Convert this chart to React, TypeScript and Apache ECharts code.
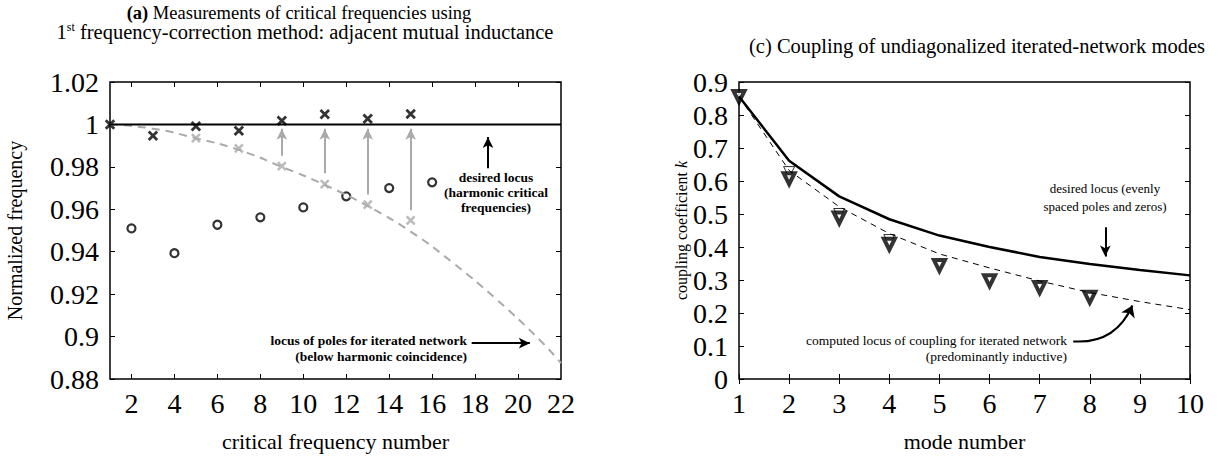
import React, { useEffect, useRef } from "react";
import * as echarts from "echarts";

// ---- Panel (a) data ----
const circleNum = [2, 4, 6, 8, 10, 12, 14, 16];
const circleFreq = [0.951, 0.9393, 0.9527, 0.9562, 0.9609, 0.9661, 0.97, 0.9727];
const crossNum = [1, 3, 5, 7, 9, 11, 13, 15];
const crossFreq = [1.0, 0.9947, 0.9991, 0.997, 1.0017, 1.0048, 1.0027, 1.0049];
const grayNum = [5, 7, 9, 11, 13, 15];
const grayFreq = [0.9935, 0.9887, 0.9803, 0.9719, 0.9622, 0.9548];
const locusNum = [1, 3, 5, 7, 9, 11, 13, 15, 17, 19, 21, 22];
const locusFreq = [1.0, 0.998, 0.9935, 0.988, 0.98, 0.9715, 0.9615, 0.9495, 0.9345, 0.9175, 0.8985, 0.8875];
const desiredNum = [1, 22];
const desiredFreq = [1.0, 1.0];
const arrowNum = [9, 11, 13, 15];
const arrowFrom = [0.9852, 0.977, 0.967, 0.9596];
const arrowTo = 0.998;
const xTicksA = [2, 4, 6, 8, 10, 12, 14, 16, 18, 20, 22];

// ---- Panel (c) data ----
const modes = [1, 2, 3, 4, 5, 6, 7, 8, 9, 10];
const desiredK = [0.856, 0.6614, 0.5534, 0.4841, 0.4346, 0.4, 0.37, 0.3485, 0.3306, 0.314];
const computedK = [0.856, 0.632, 0.522, 0.4406, 0.379, 0.3366, 0.297, 0.262, 0.2346, 0.21];
const measModes = [1, 2, 3, 4, 5, 6, 7, 8];
const measK = [0.856, 0.607, 0.488, 0.408, 0.3436, 0.298, 0.277, 0.2475];
const thinModes = [2, 3, 4];
const thinK = [0.627, 0.5, 0.421];

const FONT = "Liberation Serif";
const CROSS = "path://M0,0L10,10M10,0L0,10";

const zip = (xs: number[], ys: number[]) => xs.map((x, i) => [x, ys[i]]);

const txt = (text: string, x: number, y: number, size: number, extra: any = {}) => ({
  type: "text",
  style: {
    text, x, y, align: "center", verticalAlign: "middle",
    fontFamily: FONT, fontSize: size, fill: "#000", ...extra,
  },
});

export default function App() {
  const ref = useRef<HTMLDivElement>(null);
  useEffect(() => {
    if (!ref.current) return;
    const chart = echarts.init(ref.current, undefined, { renderer: "svg" });
    const gridA = { left: 110, top: 82, width: 451, height: 303 };
    const gridC = { left: 739, top: 82, width: 451, height: 303 };
    const tickStyle = { show: true, inside: true, length: 5, lineStyle: { color: "#000", width: 1 } };
    const labelFont = { fontFamily: FONT, fontSize: 28, color: "#000" };
    const noLine = { show: false };
    const arrowLine = (color: string, data: any[], xi: number, yi: number) => ({
      type: "line", xAxisIndex: xi, yAxisIndex: yi, data: [], silent: true,
      markLine: {
        silent: true, symbol: ["none", "arrow"], symbolSize: [8, 11],
        label: { show: false },
        lineStyle: { color, width: 2, type: "solid" },
        data,
      },
    });
    const option: any = {
      animation: false,
      backgroundColor: "#fff",
      grid: [
        { ...gridA, show: true, borderColor: "#000", borderWidth: 1.5, backgroundColor: "transparent" },
        { ...gridC, show: true, borderColor: "#000", borderWidth: 1.5, backgroundColor: "transparent" },
      ],
      xAxis: [
        {
          type: "value", gridIndex: 0, min: 1, max: 22, position: "bottom",
          axisLine: noLine, splitLine: { show: false },
          axisTick: { ...tickStyle, customValues: xTicksA.slice(0, -1) },
          axisLabel: { ...labelFont, margin: 10, customValues: xTicksA },
          name: "critical frequency number", nameLocation: "middle", nameGap: 51,
          nameTextStyle: { fontFamily: FONT, fontSize: 22, color: "#000" },
        },
        {
          type: "value", gridIndex: 0, min: 1, max: 22, position: "top",
          axisLine: noLine, splitLine: { show: false },
          axisTick: { ...tickStyle, customValues: xTicksA.slice(0, -1) },
          axisLabel: { show: false },
        },
        {
          type: "value", gridIndex: 1, min: 1, max: 10, interval: 1, position: "bottom",
          axisLine: noLine, splitLine: { show: false },
          axisTick: tickStyle,
          axisLabel: { ...labelFont, margin: 10 },
          name: "mode number", nameLocation: "middle", nameGap: 51,
          nameTextStyle: { fontFamily: FONT, fontSize: 22, color: "#000" },
        },
        {
          type: "value", gridIndex: 1, min: 1, max: 10, interval: 1, position: "top",
          axisLine: noLine, splitLine: { show: false },
          axisTick: tickStyle, axisLabel: { show: false },
        },
      ],
      yAxis: [
        {
          type: "value", gridIndex: 0, min: 0.88, max: 1.02, interval: 0.02, position: "left",
          axisLine: noLine, splitLine: { show: false },
          axisTick: tickStyle,
          axisLabel: {
            ...labelFont, margin: 11, padding: [5, 0, 0, 0],
            formatter: (v: number) => String(Number(v.toFixed(2))),
          },
          name: "Normalized frequency", nameLocation: "middle", nameGap: 85,
          nameTextStyle: { fontFamily: FONT, fontSize: 20, color: "#000" },
        },
        {
          type: "value", gridIndex: 0, min: 0.88, max: 1.02, interval: 0.02, position: "right",
          axisLine: noLine, splitLine: { show: false },
          axisTick: tickStyle, axisLabel: { show: false },
        },
        {
          type: "value", gridIndex: 1, min: 0, max: 0.9, interval: 0.1, position: "left",
          axisLine: noLine, splitLine: { show: false },
          axisTick: tickStyle,
          axisLabel: {
            ...labelFont, margin: 11, padding: [5, 0, 0, 0],
            formatter: (v: number) => String(Number(v.toFixed(1))),
          },
          name: "coupling coefficient {i|k}", nameLocation: "middle", nameGap: 44,
          nameTextStyle: {
            fontFamily: FONT, fontSize: 16, color: "#000",
            rich: { i: { fontFamily: FONT, fontSize: 16, fontStyle: "italic" } },
          },
        },
        {
          type: "value", gridIndex: 1, min: 0, max: 0.9, interval: 0.1, position: "right",
          axisLine: noLine, splitLine: { show: false },
          axisTick: tickStyle, axisLabel: { show: false },
        },
      ],
      series: [
        {
          type: "line", xAxisIndex: 0, yAxisIndex: 0, data: zip(locusNum, locusFreq), smooth: true,
          showSymbol: false, lineStyle: { color: "#aaaaaa", width: 2, type: [8, 6] }, silent: true,
        },
        {
          type: "line", xAxisIndex: 0, yAxisIndex: 0, data: zip(desiredNum, desiredFreq),
          showSymbol: false, lineStyle: { color: "#000", width: 2 }, silent: true,
        },
        arrowLine("#aaaaaa", arrowNum.map((n, i) => [{ coord: [n, arrowFrom[i]] }, { coord: [n, arrowTo] }]), 0, 0),
        {
          type: "scatter", xAxisIndex: 0, yAxisIndex: 0, data: zip(grayNum, grayFreq),
          symbol: CROSS, symbolSize: 8, itemStyle: { color: "none", borderColor: "#aaaaaa", borderWidth: 2.5 },
        },
        {
          type: "scatter", xAxisIndex: 0, yAxisIndex: 0, data: zip(crossNum, crossFreq),
          symbol: CROSS, symbolSize: 8.5, itemStyle: { color: "none", borderColor: "#000", borderWidth: 2.8 },
        },
        {
          type: "scatter", xAxisIndex: 0, yAxisIndex: 0, data: zip(circleNum, circleFreq),
          symbol: "circle", symbolSize: 8, itemStyle: { color: "#fff", borderColor: "#000", borderWidth: 2.2 },
        },
        arrowLine("#000", [
          [{ coord: [18.6, 0.9793] }, { coord: [18.6, 0.9941] }],
          [{ coord: [17.84, 0.8969] }, { coord: [20.55, 0.8969] }],
        ], 0, 0),
        // panel (c)
        {
          type: "line", xAxisIndex: 2, yAxisIndex: 2, data: zip(modes, computedK),
          showSymbol: false, lineStyle: { color: "#000", width: 1, type: [6, 5] }, silent: true,
        },
        {
          type: "line", xAxisIndex: 2, yAxisIndex: 2, data: zip(modes, desiredK),
          showSymbol: false, lineStyle: { color: "#000", width: 2.5 }, silent: true,
        },
        {
          type: "scatter", xAxisIndex: 2, yAxisIndex: 2, data: zip(thinModes, thinK),
          symbol: "triangle", symbolRotate: 180, symbolSize: 11,
          itemStyle: { color: "#fff", borderColor: "#000", borderWidth: 1 },
        },
        {
          type: "scatter", xAxisIndex: 2, yAxisIndex: 2, data: zip(measModes, measK),
          symbol: "triangle", symbolRotate: 180, symbolSize: 11,
          itemStyle: { color: "#fff", borderColor: "#000", borderWidth: 4 },
        },
        arrowLine("#000", [[{ coord: [8.31, 0.46] }, { coord: [8.31, 0.371] }]], 2, 2),
        {
          type: "lines", coordinateSystem: "cartesian2d", xAxisIndex: 2, yAxisIndex: 2, silent: true,
          symbol: ["none", "arrow"], symbolSize: 11,
          lineStyle: { color: "#000", width: 2, curveness: -0.35, opacity: 1 },
          data: [{ coords: [[7.67, 0.1138], [8.85, 0.2228]] }],
        },
      ],
      graphic: [
        txt("{b|(a)} Measurements of critical frequencies using", 299, 13, 18.5, {
          rich: { b: { fontWeight: "bold", fontSize: 18.5, fontFamily: FONT } },
        }),
        txt("1{sup|st} frequency-correction method: adjacent mutual inductance", 305, 32, 20.5, {
          rich: { sup: { fontSize: 12, fontFamily: FONT, verticalAlign: "top", lineHeight: 22 } },
        }),
        txt("(c) Coupling of undiagonalized iterated-network modes", 977, 46, 20.5),
        txt("desired locus\n(harmonic critical\nfrequencies)", 496, 192, 13.5, { lineHeight: 15, fontWeight: "bold" }),
        txt("locus of poles for iterated network\n(below harmonic coincidence)", 467, 348, 13.5, {
          align: "right", lineHeight: 16, fontWeight: "bold",
        }),
        txt("desired locus (evenly\nspaced poles and zeros)", 1105, 197, 13, { lineHeight: 18 }),
        txt("computed locus of coupling for iterated network\n(predominantly inductive)", 1067, 348, 13.5, {
          align: "right", lineHeight: 16,
        }),
      ],
    };
    chart.setOption(option);
    return () => chart.dispose();
  }, []);
  return (
    <div
      ref={ref}
      style={{ position: "absolute", left: 0, top: 0, width: 1218, height: 457, background: "#fff" }}
    />
  );
}
